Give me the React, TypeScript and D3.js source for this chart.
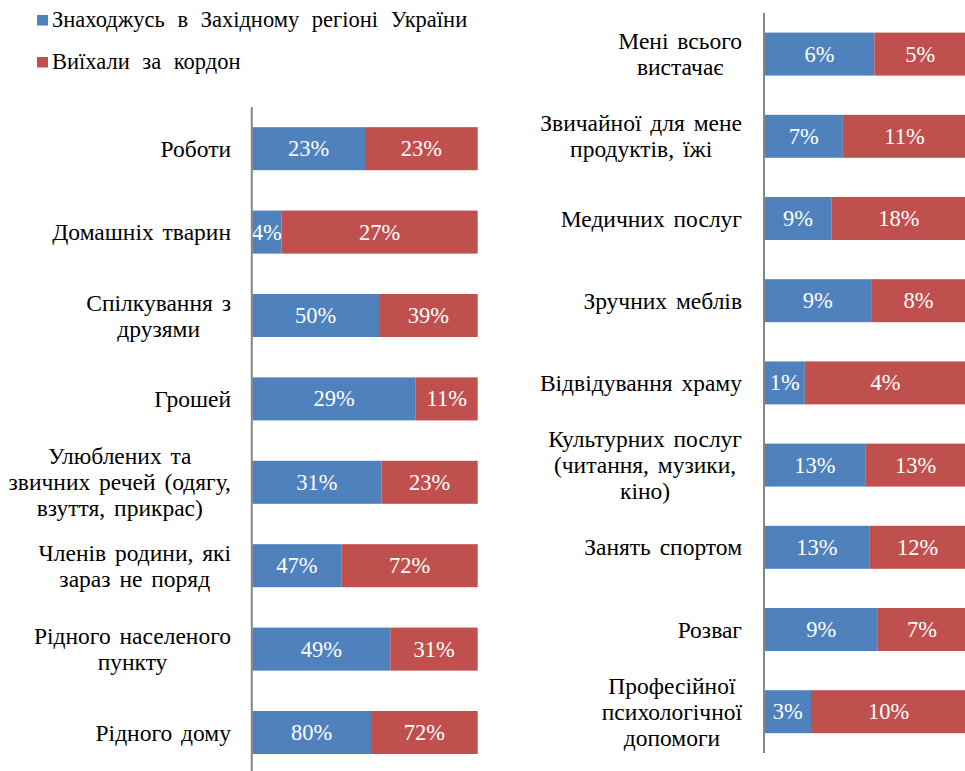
import React from "react";
import * as d3 from "d3";

const seriesNames = ["Знаходжусь в Західному регіоні України", "Виїхали за кордон"];
const seriesColors = ["#4F81BD", "#C0504D"];

const leftCategories = [
  "Роботи",
  "Домашніх тварин",
  "Спілкування з\nдрузями",
  "Грошей",
  "Улюблених та\nзвичних речей (одягу,\nвзуття, прикрас)",
  "Членів родини, які\nзараз не поряд",
  "Рідного населеного\nпункту",
  "Рідного дому",
];
const leftWest = [23, 4, 50, 29, 31, 47, 49, 80];
const leftAbroad = [23, 27, 39, 11, 23, 72, 31, 72];

const rightCategories = [
  "Мені всього\nвистачає",
  "Звичайної для мене\nпродуктів, їжі",
  "Медичних послуг",
  "Зручних меблів",
  "Відвідування храму",
  "Культурних послуг\n(читання, музики,\nкіно)",
  "Занять спортом",
  "Розваг",
  "Професійної\nпсихологічної\nдопомоги",
];
const rightWest = [6, 7, 9, 9, 1, 13, 13, 9, 3];
const rightAbroad = [5, 11, 18, 8, 4, 13, 12, 7, 10];

const FONT = '"Liberation Serif", "Times New Roman", serif';
const FS_CAT = 23.5;
const FS_PCT = 22.5;
const FS_LEG = 22.5;
const WS_CAT = 3;
const WS_LEG = 7;
const LINE_H = 26;

let ctx: CanvasRenderingContext2D | null = null;
function measure(t: string, fs: number, ws: number): number {
  const spaces = (t.match(/ /g) || []).length;
  if (!ctx) {
    const c = document.createElement("canvas");
    ctx = c.getContext("2d");
  }
  if (!ctx) return t.length * fs * 0.47 + spaces * ws;
  ctx.font = `${fs}px ${FONT}`;
  return ctx.measureText(t).width + spaces * ws;
}

type PanelProps = {
  cats: string[];
  west: number[];
  abroad: number[];
  x0: number;
  x1: number;
  y0: number;
  y1: number;
  axisTop: number;
  axisBottom: number;
  labelRight: number;
  padding: number;
};

function Panel({ cats, west, abroad, x0, x1, y0, y1, axisTop, axisBottom, labelRight, padding }: PanelProps) {
  const y = d3.scaleBand<string>().domain(cats).range([y0, y1]).paddingInner(padding).paddingOuter(padding / 2);
  const x = d3.scaleLinear().domain([0, 1]).range([x0, x1]);
  const rows = cats.map((c, i) => {
    const total = west[i] + abroad[i];
    return { c, w: west[i], a: abroad[i], s: west[i] / total };
  });
  return (
    <g>
      {rows.map((r) => {
        const yy = y(r.c)!;
        const h = y.bandwidth();
        const cy = yy + h / 2;
        const xa = x(0), xb = x(r.s), xc = x(1);
        return (
          <g key={r.c}>
            <rect x={xa} y={yy} width={xb - xa} height={h} fill={seriesColors[0]} />
            <rect x={xb} y={yy} width={xc - xb} height={h} fill={seriesColors[1]} />
            <text x={(xa + xb) / 2} y={cy + 7.5} textAnchor="middle" fill="#fff" fontSize={FS_PCT} style={{ fontFamily: FONT }}>{`${r.w}%`}</text>
            <text x={(xb + xc) / 2} y={cy + 7.5} textAnchor="middle" fill="#fff" fontSize={FS_PCT} style={{ fontFamily: FONT }}>{`${r.a}%`}</text>
          </g>
        );
      })}
      {rows.map((r) => {
        const lines = r.c.split("\n");
        const bw = Math.max(...lines.map((l) => measure(l, FS_CAT, WS_CAT)));
        const cx = labelRight - bw / 2;
        const cy = y(r.c)! + y.bandwidth() / 2;
        const firstBase = cy + 8 - ((lines.length - 1) * LINE_H) / 2;
        return (
          <text key={"l" + r.c} textAnchor="middle" fontSize={FS_CAT} style={{ fontFamily: FONT, wordSpacing: `${WS_CAT}px` }} fill="#000">
            {lines.map((ln, k) => (
              <tspan key={k} x={cx} y={firstBase + k * LINE_H}>{ln}</tspan>
            ))}
          </text>
        );
      })}
      <line x1={x0 - 0.5} x2={x0 - 0.5} y1={axisTop} y2={axisBottom} stroke="#868686" strokeWidth={2} />
    </g>
  );
}

export default function App() {
  return (
    <svg width={965} height={771} style={{ position: "absolute", left: 0, top: 0, fontFamily: FONT }}>
      <rect x={0} y={0} width={965} height={771} fill="#fff" />
      {seriesNames.map((n, i) => (
        <g key={n}>
          <rect x={37} y={15 + i * 42} width={11} height={10.5} fill={seriesColors[i]} />
          <text x={52} y={27 + i * 41.5} fontSize={FS_LEG} style={{ fontFamily: FONT, wordSpacing: `${WS_LEG}px` }} fill="#000">{n}</text>
        </g>
      ))}
      <Panel
        cats={leftCategories}
        west={leftWest}
        abroad={leftAbroad}
        x0={252.3}
        x1={477.7}
        y0={107}
        y1={107 + 8 * 83.4}
        axisTop={107}
        axisBottom={771}
        labelRight={231}
        padding={0.484}
      />
      <Panel
        cats={rightCategories}
        west={rightWest}
        abroad={rightAbroad}
        x0={764.5}
        x1={966}
        y0={13}
        y1={13 + 9 * 82.2}
        axisTop={13}
        axisBottom={753}
        labelRight={742}
        padding={0.477}
      />
    </svg>
  );
}
